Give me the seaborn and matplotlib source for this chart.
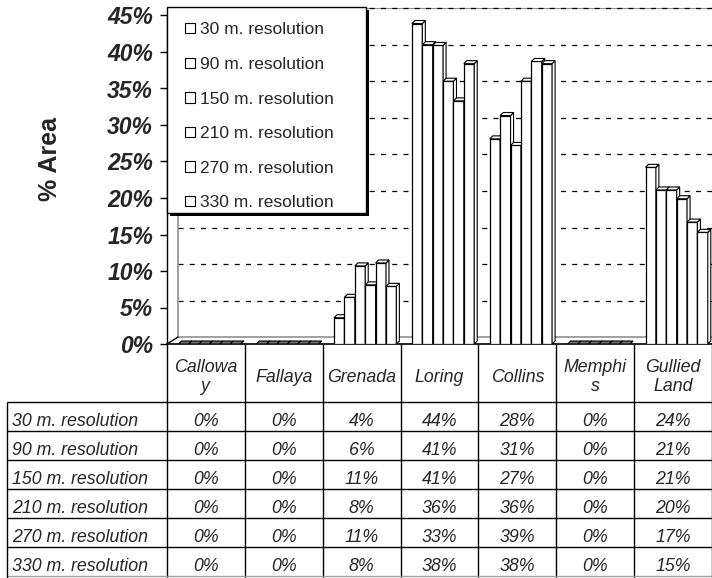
import numpy as np
import pandas as pd
import matplotlib
matplotlib.use("Agg")
import matplotlib.pyplot as plt
from matplotlib.patches import Polygon, Patch, Rectangle
import seaborn as sns

# data (bar heights, %)
soils = ["Calloway", "Fallaya", "Grenada", "Loring", "Collins", "Memphis", "Gullied Land"]
soil_headers = ["Callowa\ny", "Fallaya", "Grenada", "Loring", "Collins", "Memphi\ns", "Gullied\nLand"]
resolutions = ["30 m. resolution", "90 m. resolution", "150 m. resolution",
               "210 m. resolution", "270 m. resolution", "330 m. resolution"]
res_30 = [0, 0, 3.6, 43.9, 28.1, 0, 24.2]
res_90 = [0, 0, 6.4, 41.0, 31.3, 0, 21.1]
res_150 = [0, 0, 10.7, 40.9, 27.2, 0, 21.1]
res_210 = [0, 0, 8.1, 36.0, 36.0, 0, 19.9]
res_270 = [0, 0, 11.1, 33.3, 38.7, 0, 16.7]
res_330 = [0, 0, 7.9, 38.4, 38.4, 0, 15.3]
y_ticks = [0, 5, 10, 15, 20, 25, 30, 35, 40, 45]

series = [res_30, res_90, res_150, res_210, res_270, res_330]
df = pd.DataFrame({
    "soil": soils * len(resolutions),
    "resolution": [r for r in resolutions for _ in soils],
    "value": [v for s in series for v in s],
})

sns.set_style("white")
plt.rcParams["font.family"] = ["Liberation Sans", "DejaVu Sans"]

W, H = 712, 578
ax_l, ax_r, ax_t, ax_b = 167, 712, 15.5, 344
fig = plt.figure(figsize=(W / 100, H / 100), dpi=100)
tab = fig.add_axes([0, 0, 1, 1], zorder=0)
tab.set_xlim(0, W)
tab.set_ylim(H, 0)
tab.axis("off")
ax = fig.add_axes([ax_l / W, 1 - ax_b / H, (ax_r - ax_l) / W, (ax_b - ax_t) / H], zorder=1)
ax.set_facecolor("none")

sns.barplot(data=df, x="soil", y="value", hue="resolution", order=soils,
            hue_order=resolutions, palette={r: "white" for r in resolutions},
            edgecolor="black", linewidth=0.9, width=0.8, saturation=1,
            errorbar=None, legend=False, ax=ax)

sx = 0.046
ax.set_xlim(-0.5 - sx, 6.5 - sx)
ax.set_ylim(0, 45)
px_x = (ax_r - ax_l) / 7
px_y = (ax_b - ax_t) / 45
dx = 3 / px_x
dy = 3 / px_y

# fake 3d: top and side faces
for k, cont in enumerate(ax.containers):
    for bar in cont:
        bar.set_zorder(3 + 2 * k)
        x0 = bar.get_x()
        x1 = x0 + bar.get_width()
        h = bar.get_height()
        side = Polygon([(x1, 0), (x1, h), (x1 + dx, h + dy), (x1 + dx, dy)],
                       closed=True, fc="white", ec="black", lw=0.8, zorder=4 + 2 * k)
        top = Polygon([(x0, h), (x1, h), (x1 + dx, h + dy), (x0 + dx, h + dy)],
                      closed=True, fc="white" if h > 0 else "#707070", ec="black",
                      lw=0.8, zorder=4 + 2 * k)
        ax.add_patch(side)
        ax.add_patch(top)

ax.set_yticks(y_ticks)
ax.set_yticklabels([f"{t}%" for t in y_ticks], fontsize=16.5, fontweight="bold",
                   fontstyle="italic")
ax.set_xticks([])
ax.set_xlabel("")
ax.set_ylabel("")
ax.tick_params(axis="y", left=True, length=5, width=1, pad=5, direction="out",
               color="black")
for s in ["top", "right"]:
    ax.spines[s].set_visible(False)
ax.spines["left"].set_color("black")
ax.spines["left"].set_linewidth(1)
ax.spines["bottom"].set_color("black")
ax.spines["bottom"].set_linewidth(1.2)

# back wall and floor
wall_dx = 11 / (ax_r - ax_l)
wall_dy = 7 / px_y
ytr = ax.get_yaxis_transform()
for t in y_ticks[1:]:
    ax.plot([wall_dx, 1], [t + wall_dy] * 2, transform=ytr, color="black", lw=0.9,
            ls=(0, (4, 5)), zorder=1, clip_on=False)
ax.plot([wall_dx, 1], [45 + wall_dy] * 2, transform=ytr, color="#909090", lw=0.8,
        zorder=0.9, clip_on=False)
ax.plot([wall_dx, wall_dx], [wall_dy, 45 + wall_dy], transform=ytr, color="#909090",
        lw=1.2, zorder=1, clip_on=False)
ax.plot([wall_dx, 1], [wall_dy, wall_dy], transform=ytr, color="#909090", lw=1.2,
        zorder=1)
ax.plot([0, wall_dx], [0, wall_dy], transform=ytr, color="black", lw=1, zorder=1)

# legend box with black drop shadow
lx0, lx1, ly0, ly1 = 167, 366, 7, 213
fig.patches.append(Rectangle(((lx0 + 3) / W, 1 - (ly1 + 3) / H), (lx1 - lx0) / W,
                             (ly1 - ly0) / H, transform=fig.transFigure,
                             fc="black", ec="none", zorder=5))
fig.patches.append(Rectangle((lx0 / W, 1 - ly1 / H), (lx1 - lx0) / W, (ly1 - ly0) / H,
                             transform=fig.transFigure, fc="white", ec="black",
                             lw=1, zorder=6))
handles = [Patch(facecolor="white", edgecolor="black", lw=0.8) for _ in resolutions]
leg = fig.legend(handles, resolutions, loc="upper left",
                 bbox_to_anchor=(185 / W, 1 - 22.3 / H), borderaxespad=0,
                 frameon=False, prop={"size": 12.5}, labelspacing=1.13,
                 handlelength=0.55, handleheight=0.55, handletextpad=0.3,
                 borderpad=0)
leg.set_zorder(7)

fig.text(50 / W, 1 - 159 / H, "% Area", rotation=90, fontsize=18, fontweight="bold",
         ha="center", va="center")

# data table below
col_edges = [ax_l + px_x * i for i in range(8)]
row_lines = [402 + 29 * i for i in range(7)]
tab.vlines(col_edges, ax_b, H, color="black", lw=1)
tab.hlines(row_lines[:-1], 7, W, color="black", lw=1)
tab.hlines(row_lines[-1], 7, W, color="#a0a0a0", lw=1)
tab.vlines(7, row_lines[0], H, color="black", lw=1)
for i, hd in enumerate(soil_headers):
    tab.text((col_edges[i] + col_edges[i + 1]) / 2, 377, hd, ha="center", va="center",
             fontsize=12.8, fontstyle="italic", linespacing=1.1)
for j, r in enumerate(resolutions):
    yc = (row_lines[j] + row_lines[j + 1]) / 2 + 5
    tab.text(12, yc, r, ha="left", va="center", fontsize=12.8, fontstyle="italic")
    for i, v in enumerate(series[j]):
        tab.text((col_edges[i] + col_edges[i + 1]) / 2, yc, f"{v:.0f}%", ha="center",
                 va="center", fontsize=12.8, fontstyle="italic")

fig.savefig("out.png", dpi=100)
